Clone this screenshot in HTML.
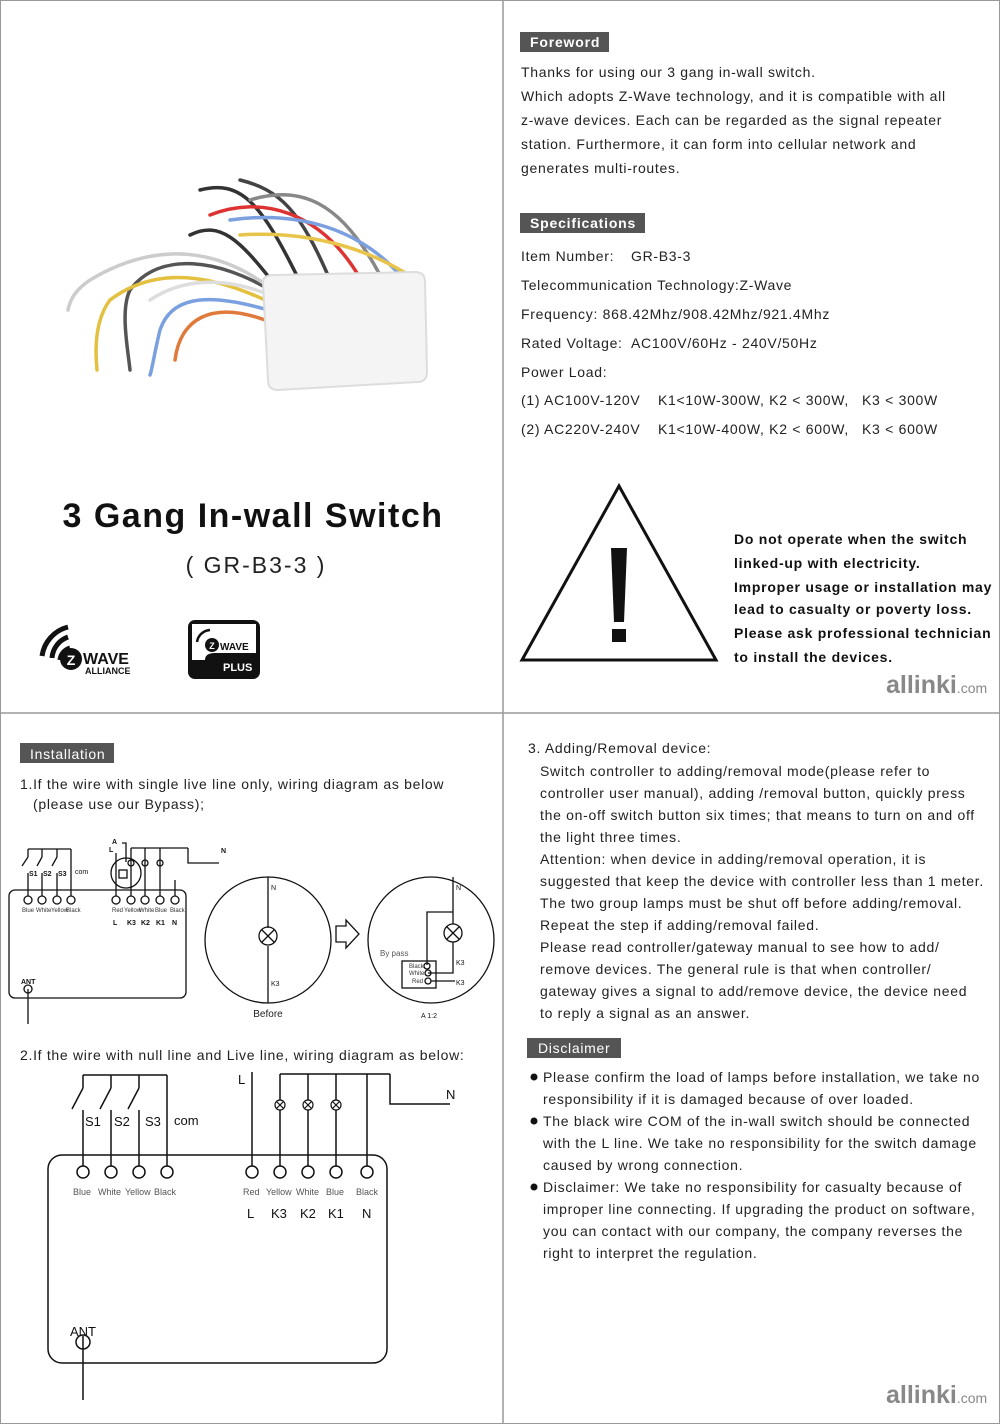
<!DOCTYPE html>
<html><head><meta charset="utf-8"><style>
html,body{margin:0;padding:0;background:#fff}
svg{display:block}
text{font-family:"Liberation Sans",Arial,sans-serif}
.t{letter-spacing:0.7px}
</style></head><body>
<svg width="1000" height="1424" viewBox="0 0 1000 1424" xmlns="http://www.w3.org/2000/svg">
<g fill="#222">
<!-- frame -->
<rect x="0.5" y="0.5" width="999" height="1423" fill="none" stroke="#999"/>
<line x1="503" y1="0" x2="503" y2="1424" stroke="#999" stroke-width="1.5"/>
<line x1="0" y1="713" x2="1000" y2="713" stroke="#999" stroke-width="1.5"/>

<!-- photo -->
<g fill="none" stroke-linecap="round" stroke-width="3.5">
<path d="M275 285 C240 240 220 220 190 235" stroke="#333"/>
<path d="M300 282 C260 200 240 180 200 190" stroke="#333"/>
<path d="M330 280 C300 210 280 190 240 180" stroke="#444"/>
<path d="M380 275 C340 200 300 185 250 200" stroke="#888"/>
<path d="M360 278 C320 210 260 195 210 215" stroke="#d33"/>
<path d="M400 275 C360 230 300 210 230 220" stroke="#7aa0e0"/>
<path d="M410 276 C370 250 310 230 240 235" stroke="#e8c54a"/>
<path d="M270 290 C220 260 160 250 130 290 C120 310 128 350 130 370" stroke="#555"/>
<path d="M265 300 C200 270 150 270 110 300 C95 320 95 350 97 370" stroke="#e3c040"/>
<path d="M268 310 C200 290 170 300 160 330 C155 350 152 370 150 375" stroke="#7aa0e0"/>
<path d="M270 295 C220 275 180 280 150 300" stroke="#ddd"/>
<path d="M265 320 C210 300 180 320 175 360" stroke="#e07a3a"/>
<path d="M262 282 C200 240 140 250 90 280 C75 290 70 300 68 310" stroke="#ccc"/>
</g>
<path d="M263 283 Q262 275 275 275 L415 272 Q425 272 425 282 L427 372 Q427 382 417 382 L278 390 Q268 390 268 380 Z" fill="#f4f4f4" stroke="#ddd" stroke-width="2"/>

<!-- title -->
<text x="253" y="527" font-size="34" font-weight="bold" text-anchor="middle" letter-spacing="1.5" fill="#111">3 Gang In-wall Switch</text>
<text x="256" y="573" font-size="23" text-anchor="middle" letter-spacing="2">( GR-B3-3 )</text>

<!-- zwave alliance logo -->
<g>
<path d="M42 656 A35 35 0 0 1 68 627" stroke="#111" stroke-width="5" fill="none"/>
<path d="M52 658 A24 24 0 0 1 68 637" stroke="#111" stroke-width="5" fill="none"/>
<path d="M60 660 A14 14 0 0 1 70 648" stroke="#111" stroke-width="5" fill="none"/>
<circle cx="71" cy="659" r="11" fill="#111"/>
<text x="71" y="665" font-size="14" font-weight="bold" text-anchor="middle" fill="#fff">Z</text>
<text x="83" y="664" font-size="16" font-weight="900" fill="#111">WAVE</text>
<text x="85" y="674" font-size="9" font-weight="bold" fill="#111">ALLIANCE</text>
</g>
<g>
<rect x="188" y="620" width="72" height="59" rx="7" fill="#111"/>
<path d="M192 624 L256 624 L256 653 L215 653 Q205 653 205 660 L192 660 Z" fill="#fff"/>
<circle cx="212" cy="645" r="7" fill="#111"/>
<text x="212" y="649" font-size="9" font-weight="bold" text-anchor="middle" fill="#fff">Z</text>
<text x="220" y="650" font-size="10" font-weight="900" fill="#111">WAVE</text>
<path d="M197 642 A14 14 0 0 1 210 630" stroke="#111" stroke-width="2.5" fill="none"/>
<text x="223" y="671" font-size="11" font-weight="bold" fill="#fff">PLUS</text>
</g>

<!-- Foreword -->
<rect x="520" y="32" width="89" height="20" fill="#555"/>
<text x="530" y="47" font-size="14" font-weight="bold" fill="#fff" letter-spacing="0.8">Foreword</text>
<g font-size="14" class="t">
<text x="521" y="77">Thanks for using our 3 gang in-wall switch.</text>
<text x="521" y="101">Which adopts Z-Wave technology, and it is compatible with all</text>
<text x="521" y="125">z-wave devices. Each can be regarded as the signal repeater</text>
<text x="521" y="149">station. Furthermore, it can form into cellular network and</text>
<text x="521" y="173">generates multi-routes.</text>
</g>
<rect x="520" y="213" width="125" height="20" fill="#555"/>
<text x="530" y="228" font-size="14" font-weight="bold" fill="#fff" letter-spacing="0.8">Specifications</text>
<g font-size="14" class="t">
<text x="521" y="261">Item Number:</text><text x="631" y="261">GR-B3-3</text>
<text x="521" y="290">Telecommunication Technology:Z-Wave</text>
<text x="521" y="319">Frequency: 868.42Mhz/908.42Mhz/921.4Mhz</text>
<text x="521" y="348">Rated Voltage:</text><text x="631" y="348">AC100V/60Hz - 240V/50Hz</text>
<text x="521" y="377">Power Load:</text>
<text x="521" y="405">(1) AC100V-120V</text><text x="658" y="405">K1&lt;10W-300W, K2 &lt; 300W,</text><text x="862" y="405">K3 &lt; 300W</text>
<text x="521" y="434">(2) AC220V-240V</text><text x="658" y="434">K1&lt;10W-400W, K2 &lt; 600W,</text><text x="862" y="434">K3 &lt; 600W</text>
</g>

<!-- warning -->
<path d="M619 486 L522 660 L716 660 Z" fill="none" stroke="#111" stroke-width="3"/>
<path d="M611 548 L627 548 L624 622 L614 622 Z" fill="#111"/>
<rect x="612" y="629" width="14" height="13" fill="#111"/>
<g font-size="14" font-weight="bold" fill="#111" letter-spacing="0.75">
<text x="734" y="544">Do not operate when the switch</text>
<text x="734" y="568">linked-up with electricity.</text>
<text x="734" y="592">Improper usage or installation may</text>
<text x="734" y="614">lead to casualty or poverty loss.</text>
<text x="734" y="638">Please ask professional technician</text>
<text x="734" y="662">to install the devices.</text>
</g>
<text x="886" y="693" font-size="25" font-weight="bold" fill="#888">allinki<tspan font-size="14" font-weight="normal">.com</tspan></text>

<!-- Installation -->
<rect x="20" y="743" width="94" height="20" fill="#555"/>
<text x="30" y="759" font-size="14" fill="#fff" class="t">Installation</text>
<text x="20" y="789" font-size="14" class="t">1.If the wire with single live line only, wiring diagram as below</text>
<text x="33" y="809" font-size="14" class="t">(please use our Bypass);</text>

<!-- diagram 1 -->
<g stroke="#111" stroke-width="1.3" fill="none">
<rect x="9" y="890" width="177" height="108" rx="6"/>
<line x1="28" y1="849" x2="71" y2="849"/>
<line x1="71" y1="849" x2="71" y2="896"/>
<line x1="28" y1="873" x2="28" y2="896"/><line x1="42" y1="873" x2="42" y2="896"/><line x1="57" y1="873" x2="57" y2="896"/>
<line x1="28" y1="849" x2="28" y2="857"/><line x1="42" y1="849" x2="42" y2="857"/><line x1="57" y1="849" x2="57" y2="857"/>
<line x1="22" y1="866" x2="28" y2="857"/><line x1="37" y1="866" x2="42" y2="857"/><line x1="52" y1="866" x2="57" y2="857"/>
<circle cx="28" cy="900" r="4"/><circle cx="42" cy="900" r="4"/><circle cx="57" cy="900" r="4"/><circle cx="71" cy="900" r="4"/>
<circle cx="116" cy="900" r="4"/><circle cx="131" cy="900" r="4"/><circle cx="145" cy="900" r="4"/><circle cx="160" cy="900" r="4"/><circle cx="175" cy="900" r="4"/>
<line x1="116" y1="853" x2="116" y2="896"/>
<line x1="131" y1="848" x2="188" y2="848"/>
<line x1="131" y1="848" x2="131" y2="896"/><line x1="145" y1="848" x2="145" y2="896"/><line x1="160" y1="848" x2="160" y2="896"/>
<line x1="175" y1="880" x2="175" y2="896"/>
<polyline points="188,848 188,863 219,863"/>
<polyline points="122,843 126,843 126,862"/>
<circle cx="126" cy="873" r="15"/>
<rect x="119" y="870" width="8" height="8"/>
<circle cx="131" cy="863" r="3"/><circle cx="145" cy="863" r="3"/><circle cx="160" cy="863" r="3"/>
<circle cx="28" cy="989" r="4"/><line x1="28" y1="989" x2="28" y2="1024"/>
<circle cx="268" cy="940" r="63"/>
<line x1="268" y1="877" x2="268" y2="928"/><line x1="268" y1="946" x2="268" y2="1003"/>
<circle cx="268" cy="936" r="9"/><path d="M262 930 L274 942 M274 930 L262 942"/>
<path d="M336 926 L346 926 L346 920 L359 934 L346 948 L346 942 L336 942 Z"/>
<circle cx="431" cy="940" r="63"/>
<line x1="453" y1="877" x2="453" y2="924"/><circle cx="453" cy="933" r="9"/><path d="M447 927 L459 939 M459 927 L447 939"/>
<polyline points="453,942 453,973 428,973"/>
<polyline points="453,912 427,912 427,965"/>
<rect x="402" y="961" width="34" height="27"/>
<circle cx="427" cy="966" r="3"/><circle cx="428" cy="973" r="3"/><circle cx="428" cy="981" r="3"/>
<line x1="431" y1="981" x2="455" y2="981"/>
</g>
<g font-size="6" fill="#333">
<text x="22" y="912">Blue</text><text x="36" y="912">White</text><text x="51" y="912">Yellow</text><text x="66" y="912">Black</text>
<text x="112" y="912">Red</text><text x="124" y="912">Yellow</text><text x="139" y="912">White</text><text x="155" y="912">Blue</text><text x="170" y="912">Black</text>
<text x="409" y="968">Black</text><text x="409" y="975">White</text><text x="412" y="983">Red</text>
</g>
<g font-size="7" font-weight="bold" fill="#111">
<text x="29" y="876">S1</text><text x="43" y="876">S2</text><text x="58" y="876">S3</text><text x="75" y="874" font-weight="normal">com</text>
<text x="113" y="925">L</text><text x="127" y="925">K3</text><text x="141" y="925">K2</text><text x="156" y="925">K1</text><text x="172" y="925">N</text>
<text x="112" y="844">A</text><text x="109" y="852">L</text><text x="221" y="853">N</text>
<text x="21" y="984">ANT</text>
<text x="271" y="890" font-weight="normal">N</text><text x="271" y="986" font-weight="normal">K3</text>
<text x="456" y="890" font-weight="normal">N</text><text x="456" y="965" font-weight="normal">K3</text><text x="456" y="985" font-weight="normal">K3</text>
<text x="421" y="1018" font-weight="normal">A    1:2</text>
</g>
<text x="380" y="956" font-size="8" fill="#555">By pass</text>
<text x="268" y="1017" font-size="10" text-anchor="middle">Before</text>

<!-- diagram 2 -->
<text x="20" y="1060" font-size="14" class="t">2.If the wire with null line and Live line, wiring diagram as below:</text>
<g stroke="#111" stroke-width="1.5" fill="none">
<rect x="48" y="1155" width="339" height="208" rx="14"/>
<line x1="83" y1="1075" x2="167" y2="1075"/>
<line x1="167" y1="1075" x2="167" y2="1166"/>
<line x1="83" y1="1075" x2="83" y2="1088"/><line x1="111" y1="1075" x2="111" y2="1088"/><line x1="139" y1="1075" x2="139" y2="1088"/>
<line x1="72" y1="1109" x2="83" y2="1088"/><line x1="100" y1="1109" x2="111" y2="1088"/><line x1="128" y1="1109" x2="139" y2="1088"/>
<line x1="83" y1="1110" x2="83" y2="1166"/><line x1="111" y1="1110" x2="111" y2="1166"/><line x1="139" y1="1110" x2="139" y2="1166"/>
<circle cx="83" cy="1172" r="6"/><circle cx="111" cy="1172" r="6"/><circle cx="139" cy="1172" r="6"/><circle cx="167" cy="1172" r="6"/>
<circle cx="252" cy="1172" r="6"/><circle cx="280" cy="1172" r="6"/><circle cx="308" cy="1172" r="6"/><circle cx="336" cy="1172" r="6"/><circle cx="367" cy="1172" r="6"/>
<line x1="252" y1="1072" x2="252" y2="1166"/>
<line x1="280" y1="1074" x2="390" y2="1074"/>
<line x1="280" y1="1074" x2="280" y2="1166"/><line x1="308" y1="1074" x2="308" y2="1166"/><line x1="336" y1="1074" x2="336" y2="1166"/><line x1="367" y1="1074" x2="367" y2="1166"/>
<polyline points="390,1074 390,1104 450,1104"/>
<circle cx="83" cy="1342" r="7"/><line x1="83" y1="1336" x2="83" y2="1400"/>
</g>
<g stroke="#111" stroke-width="1.2">
<circle cx="280" cy="1105" r="5" fill="#fff"/><path d="M277 1102 L283 1108 M283 1102 L277 1108"/>
<circle cx="308" cy="1105" r="5" fill="#fff"/><path d="M305 1102 L311 1108 M311 1102 L305 1108"/>
<circle cx="336" cy="1105" r="5" fill="#fff"/><path d="M333 1102 L339 1108 M339 1102 L333 1108"/>
</g>
<g font-size="13" fill="#111">
<text x="85" y="1126">S1</text><text x="114" y="1126">S2</text><text x="145" y="1126">S3</text><text x="174" y="1125">com</text>
<text x="238" y="1084">L</text><text x="446" y="1099">N</text>
<text x="247" y="1218">L</text><text x="271" y="1218">K3</text><text x="300" y="1218">K2</text><text x="328" y="1218">K1</text><text x="362" y="1218">N</text>
<text x="70" y="1336">ANT</text>
</g>
<g font-size="9" fill="#555">
<text x="73" y="1195">Blue</text><text x="98" y="1195">White</text><text x="125" y="1195">Yellow</text><text x="154" y="1195">Black</text>
<text x="243" y="1195">Red</text><text x="266" y="1195">Yellow</text><text x="296" y="1195">White</text><text x="326" y="1195">Blue</text><text x="356" y="1195">Black</text>
</g>

<!-- right bottom -->
<g font-size="14" class="t">
<text x="528" y="753">3. Adding/Removal device:</text>
<text x="540" y="776">Switch controller to adding/removal mode(please refer to</text>
<text x="540" y="798">controller user manual), adding /removal button, quickly press</text>
<text x="540" y="820">the on-off switch button six times; that means to turn on and off</text>
<text x="540" y="842">the light three times.</text>
<text x="540" y="864">Attention: when device in adding/removal operation, it is</text>
<text x="540" y="886">suggested that keep the device with controller less than 1 meter.</text>
<text x="540" y="908">The two group lamps must be shut off before adding/removal.</text>
<text x="540" y="930">Repeat the step if adding/removal failed.</text>
<text x="540" y="952">Please read controller/gateway manual to see how to add/</text>
<text x="540" y="974">remove devices. The general rule is that when controller/</text>
<text x="540" y="996">gateway gives a signal to add/remove device, the device need</text>
<text x="540" y="1018">to reply a signal as an answer.</text>
</g>
<rect x="527" y="1038" width="94" height="20" fill="#555"/>
<text x="538" y="1053" font-size="14" fill="#fff" class="t">Disclaimer</text>
<g font-size="14" class="t">
<circle cx="534" cy="1077" r="3.5" fill="#111"/><circle cx="534" cy="1121" r="3.5" fill="#111"/><circle cx="534" cy="1187" r="3.5" fill="#111"/>
<text x="543" y="1082">Please confirm the load of lamps before installation, we take no</text>
<text x="543" y="1104">responsibility if it is damaged because of over loaded.</text>
<text x="543" y="1126">The black wire COM of the in-wall switch should be connected</text>
<text x="543" y="1148">with the L line. We take no responsibility for the switch damage</text>
<text x="543" y="1170">caused by wrong connection.</text>
<text x="543" y="1192">Disclaimer: We take no responsibility for casualty because of</text>
<text x="543" y="1214">improper line connecting. If upgrading the product on software,</text>
<text x="543" y="1236">you can contact with our company, the company reverses the</text>
<text x="543" y="1258">right to interpret the regulation.</text>
</g>
<text x="886" y="1403" font-size="25" font-weight="bold" fill="#888">allinki<tspan font-size="14" font-weight="normal">.com</tspan></text>
</g>
</svg>
</body></html>
